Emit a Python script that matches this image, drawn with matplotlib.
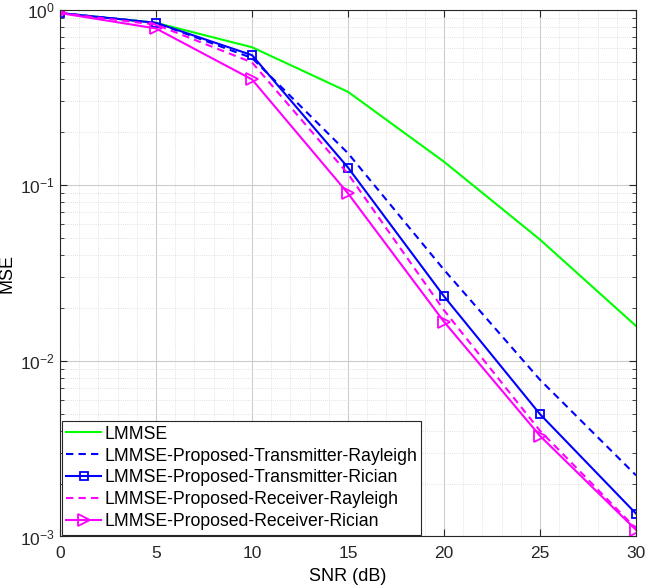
import matplotlib
matplotlib.use("Agg")
import matplotlib.pyplot as plt
from matplotlib.ticker import LogLocator, MultipleLocator

plt.rcParams['font.family'] = ['Liberation Sans', 'DejaVu Sans']
plt.rcParams['mathtext.fontset'] = 'custom'
plt.rcParams['mathtext.rm'] = 'Liberation Sans'

snr = [0, 5, 10, 15, 20, 25, 30]
lmmse = [0.955, 0.84, 0.61, 0.34, 0.136, 0.049, 0.0158]
tx_rayleigh = [0.955, 0.84, 0.53, 0.152, 0.033, 0.0078, 0.00223]
tx_rician = [0.955, 0.84, 0.55, 0.126, 0.0233, 0.00497, 0.00135]
rx_rayleigh = [0.955, 0.82, 0.50, 0.116, 0.0194, 0.0040, 0.00111]
rx_rician = [0.955, 0.78, 0.40, 0.0898, 0.0167, 0.00374, 0.00109]

labels = ['LMMSE',
          'LMMSE-Proposed-Transmitter-Rayleigh',
          'LMMSE-Proposed-Transmitter-Rician',
          'LMMSE-Proposed-Receiver-Rayleigh',
          'LMMSE-Proposed-Receiver-Rician']

fig = plt.figure(figsize=(6.46, 5.88), dpi=100)
ax = fig.add_axes([0.0929, 0.0876, 0.8916, 0.8962])

lw = 1.5
ax.plot(snr, lmmse, color=(0, 1, 0), lw=lw, label=labels[0])
ax.plot(snr, tx_rayleigh, color=(0, 0, 1), lw=lw, ls=(0, (3.5, 2.5)), label=labels[1])
ax.plot(snr, tx_rician, color=(0, 0, 1), lw=lw, marker='s', ms=6, mfc='none', mew=1.3, label=labels[2])
ax.plot(snr, rx_rayleigh, color=(1, 0, 1), lw=lw, ls=(0, (3.5, 2.5)), label=labels[3])
ax.plot(snr, rx_rician, color=(1, 0, 1), lw=lw, marker='>', ms=8, mfc='none', mew=1.3, label=labels[4])

ax.set_yscale('log')
ax.set_xlim(0, 30)
ax.set_ylim(1e-3, 1)
ax.xaxis.set_major_locator(MultipleLocator(5))
ax.xaxis.set_minor_locator(MultipleLocator(1))
ax.yaxis.set_major_locator(LogLocator(base=10, numticks=10))
ax.yaxis.set_minor_locator(LogLocator(base=10, subs=range(2, 10), numticks=20))

ax.grid(True, which='major', color=(0.80, 0.80, 0.80), lw=0.8, ls='-')
ax.grid(True, which='minor', color=(0.85, 0.85, 0.85), lw=0.6, ls=(0, (1, 1.5)))
ax.set_axisbelow(True)

for s in ax.spines.values():
    s.set_color((0.15, 0.15, 0.15))
    s.set_linewidth(0.8)
ax.tick_params(which='both', direction='in', top=True, right=True, colors=(0.15, 0.15, 0.15), labelsize=12.5)
ax.tick_params(which='major', length=5)
ax.tick_params(which='minor', length=3)
ax.tick_params(axis='x', which='minor', length=0)
ax.tick_params(axis='x', which='major', pad=7)

ax.set_xlabel('SNR (dB)', fontsize=13, labelpad=5)
ax.set_ylabel('MSE', fontsize=13)
ax.yaxis.set_label_coords(-0.077, 0.5)

leg = ax.legend(loc='lower left', fontsize=12.7, frameon=True, fancybox=False,
                edgecolor=(0.15, 0.15, 0.15), framealpha=1, handlelength=2.0,
                borderpad=0.25, labelspacing=0.28, handletextpad=0.15, borderaxespad=0.1)
leg.get_frame().set_linewidth(0.8)

fig.savefig('out.png', dpi=100)
